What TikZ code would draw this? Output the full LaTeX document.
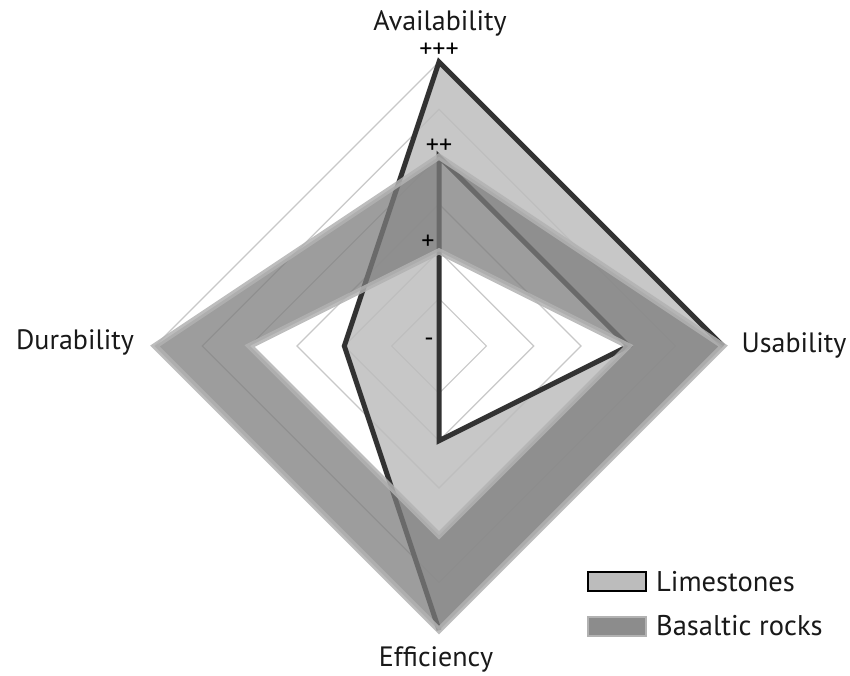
\documentclass[tikz,border=0pt]{standalone}
\usepackage{fontspec}
\setmainfont{PT Sans}
\definecolor{gridgray}{RGB}{200,200,200}
\definecolor{limefill}{RGB}{188,188,188}
\definecolor{limeline}{RGB}{50,50,50}
\definecolor{basaltfill}{RGB}{125,125,125}
\definecolor{basaltedge}{RGB}{178,178,178}
\definecolor{textcol}{RGB}{25,25,25}
\tikzset{
  gridline/.style={draw=gridgray, line width=1.2pt},
  limeband/.style={fill=limefill, fill opacity=0.83, even odd rule},
  limeedge/.style={draw=limeline, line width=5pt, line join=miter},
  basaltband/.style={fill=basaltfill, fill opacity=0.75, draw=basaltedge, draw opacity=0.85, line width=6pt, even odd rule},
  axislabel/.style={font=\fontsize{28}{32}\selectfont, text=textcol, inner sep=0pt},
  levellabel/.style={font=\fontsize{26}{28}\selectfont, text=black, inner sep=0pt},
  legendtext/.style={font=\fontsize{28.5}{32}\selectfont, text=textcol, inner sep=0pt, anchor=west},
}
\begin{document}
\begin{tikzpicture}[x=1pt,y=-1pt]
\useasboundingbox[fill=white] (0,0) rectangle (850,675);
% axis points
\coordinate (O)  at (439,346);
\coordinate (A1) at (439,251.3);
\coordinate (A2) at (439,156.6);
\coordinate (A3) at (439,61.9);
\coordinate (U2) at (628.4,346);
\coordinate (U3) at (723.1,346);
\coordinate (E1) at (439,440.7);
\coordinate (E2) at (439,535.4);
\coordinate (E3) at (439,630.1);
\coordinate (D1) at (344.3,346);
\coordinate (D2) at (249.6,346);
\coordinate (D3) at (154.9,346);
% grid
\foreach \k in {1,...,6}{
  \draw[gridline] (439,{346-47.35*\k}) -- ({439+47.35*\k},346) -- (439,{346+47.35*\k}) -- ({439-47.35*\k},346) -- cycle;
}
% limestones
\fill[limeband] (A3) -- (U3) -- (E3) -- (D1) -- cycle (A2) -- (U2) -- (E1) -- (O) -- cycle;
\draw[limeedge] (U3) -- (A3) -- (D1) -- (E3);
\draw[limeedge] (A2) -- (U2) -- (E1) -- (O) -- cycle;
% basaltic rocks
\path[basaltband] (D3) -- (A2) -- (U3) -- (E3) -- cycle (D2) -- (A1) -- (U2) -- (E2) -- cycle;
% level labels
\node[levellabel] (lvl0) at (429,342) {-};
\node[levellabel] (lvl1) at (428,242) {+};
\node[levellabel] (lvl2) at (439,146) {++};
\node[levellabel] (lvl3) at (439,50) {+++};
% axis labels
\node[axislabel] (avail) at (440,23) {Availability};
\node[axislabel] (usab) at (794,345) {Usability};
\node[axislabel] (dura) at (75,342) {Durability};
\node[axislabel] (effi) at (436,659) {Efficiency};
% legend
\node[draw=black, line width=2pt, fill=limefill, minimum width=58pt, minimum height=19pt, inner sep=0pt] (legL) at (617,581.5) {};
\node[draw=basaltedge, line width=2pt, fill={rgb,255:red,140;green,140;blue,140}, minimum width=58pt, minimum height=19pt, inner sep=0pt] (legB) at (617,626) {};
\node[legendtext] (legLt) at (656,582) {Limestones};
\node[legendtext] (legBt) at (656,626) {Basaltic rocks};
\end{tikzpicture}
\end{document}
